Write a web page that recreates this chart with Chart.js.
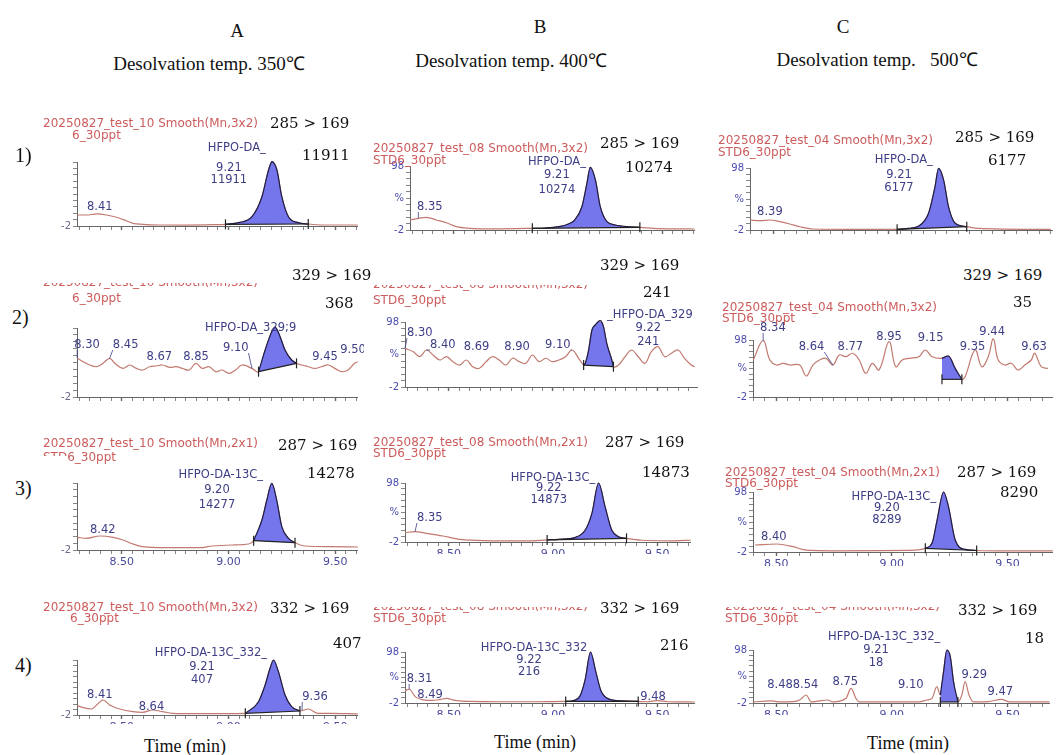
<!DOCTYPE html>
<html>
<head>
<meta charset="utf-8">
<script src="https://cdn.jsdelivr.net/npm/chart.js@4.4.0/dist/chart.umd.min.js"></script>
<style>
  body { margin: 0; background: #fff; }
  #page { position: relative; width: 1057px; height: 755px; overflow: hidden; background: #fff; }
  .t { position: absolute; white-space: nowrap; line-height: 1; transform: translateY(-50%); }
  .c { transform: translate(-50%, -50%); }
  .title { font-family: "Liberation Serif", serif; font-size: 19px; color: #111; }
  .num { font-family: "DejaVu Serif", serif; font-size: 15px; color: #111; }
  .row { font-family: "Liberation Serif", serif; font-size: 20px; color: #111; }
  .hdr { font-family: "DejaVu Sans", sans-serif; font-size: 12px; color: #cc5c5c; }
  .cut { height: 6px; overflow: hidden; transform: none; }
  .cut span { display: block; margin-top: -7px; }
  .time { font-family: "Liberation Serif", serif; font-size: 18px; color: #111; }
  .panel { position: absolute; overflow: hidden; }
  .cover { position: absolute; background: #fff; }
</style>
</head>
<body>
<div id="page">
  <div id="charts"></div>

  <div class="t c title" style="left:237px;top:30px">A</div>
  <div class="t c title" style="left:540px;top:26px">B</div>
  <div class="t c title" style="left:843px;top:26px">C</div>
  <div class="t c title" style="left:209px;top:63px">Desolvation temp. 350℃</div>
  <div class="t c title" style="left:511px;top:60px">Desolvation temp. 400℃</div>
  <div class="t c title" style="left:877px;top:59px">Desolvation temp.&nbsp;&nbsp;&nbsp;500℃</div>

  <!-- row 1 -->
  <div class="t hdr" style="left:43px;top:123px">20250827_test_10 Smooth(Mn,3x2)</div>
  <div class="t hdr" style="left:72px;top:135px">6_30ppt</div>
  <div class="t hdr" style="left:373px;top:148px">20250827_test_08 Smooth(Mn,3x2)</div>
  <div class="t hdr" style="left:373px;top:160px">STD6_30ppt</div>
  <div class="t hdr" style="left:718px;top:140px">20250827_test_04 Smooth(Mn,3x2)</div>
  <div class="t hdr" style="left:718px;top:152px">STD6_30ppt</div>
  <div class="t num" style="left:270px;top:123px">285 &gt; 169</div>
  <div class="t num" style="left:600px;top:143px">285 &gt; 169</div>
  <div class="t num" style="left:955px;top:137px">285 &gt; 169</div>
  <div class="t num" style="left:302px;top:155px">11911</div>
  <div class="t num" style="left:625px;top:167px">10274</div>
  <div class="t num" style="left:988px;top:160px">6177</div>

  <!-- row 2 -->
  <div class="t hdr cut" style="left:43px;top:283px"><span>20250827_test_10 Smooth(Mn,3x2)</span></div>
  <div class="t hdr" style="left:72px;top:298px">6_30ppt</div>
  <div class="t hdr cut" style="left:373px;top:285px"><span>20250827_test_08 Smooth(Mn,3x2)</span></div>
  <div class="t hdr" style="left:373px;top:300px">STD6_30ppt</div>
  <div class="t hdr" style="left:722px;top:307px">20250827_test_04 Smooth(Mn,3x2)</div>
  <div class="t hdr" style="left:722px;top:318px">STD6_30ppt</div>
  <div class="t num" style="left:292px;top:275px">329 &gt; 169</div>
  <div class="t num" style="left:600px;top:265px">329 &gt; 169</div>
  <div class="t num" style="left:963px;top:275px">329 &gt; 169</div>
  <div class="t num" style="left:325px;top:303px">368</div>
  <div class="t num" style="left:643px;top:292px">241</div>
  <div class="t num" style="left:1013px;top:302px">35</div>

  <!-- row 3 -->
  <div class="t hdr" style="left:43px;top:443px">20250827_test_10 Smooth(Mn,2x1)</div>
  <div class="t hdr" style="left:43px;top:457px">STD6_30ppt</div>
  <div class="cover" style="left:38px;top:456px;width:30px;height:12px"></div>
  <div class="t hdr" style="left:373px;top:442px">20250827_test_08 Smooth(Mn,2x1)</div>
  <div class="t hdr" style="left:373px;top:453px">STD6_30ppt</div>
  <div class="t hdr" style="left:725px;top:472px">20250827_test_04 Smooth(Mn,2x1)</div>
  <div class="t hdr" style="left:725px;top:483px">STD6_30ppt</div>
  <div class="t num" style="left:278px;top:445px">287 &gt; 169</div>
  <div class="t num" style="left:605px;top:442px">287 &gt; 169</div>
  <div class="t num" style="left:957px;top:472px">287 &gt; 169</div>
  <div class="t num" style="left:307px;top:473px">14278</div>
  <div class="t num" style="left:642px;top:472px">14873</div>
  <div class="t num" style="left:1000px;top:492px">8290</div>

  <!-- row 4 -->
  <div class="t hdr" style="left:43px;top:607px">20250827_test_10 Smooth(Mn,3x2)</div>
  <div class="t hdr" style="left:70px;top:618px">6_30ppt</div>
  <div class="t hdr cut" style="left:373px;top:607px"><span>20250827_test_08 Smooth(Mn,3x2)</span></div>
  <div class="t hdr" style="left:373px;top:618px">STD6_30ppt</div>
  <div class="t hdr cut" style="left:725px;top:607px"><span>20250827_test_04 Smooth(Mn,3x2)</span></div>
  <div class="t hdr" style="left:725px;top:618px">STD6_30ppt</div>
  <div class="t num" style="left:270px;top:608px">332 &gt; 169</div>
  <div class="t num" style="left:600px;top:608px">332 &gt; 169</div>
  <div class="t num" style="left:958px;top:610px">332 &gt; 169</div>
  <div class="t num" style="left:333px;top:643px">407</div>
  <div class="t num" style="left:660px;top:645px">216</div>
  <div class="t num" style="left:1025px;top:638px">18</div>

  <div class="t row" style="left:15px;top:155px">1)</div>
  <div class="t row" style="left:12px;top:317px">2)</div>
  <div class="t row" style="left:15px;top:488px">3)</div>
  <div class="t row" style="left:15px;top:665px">4)</div>

  <div class="t c time" style="left:185px;top:746px">Time (min)</div>
  <div class="t c time" style="left:535px;top:742px">Time (min)</div>
  <div class="t c time" style="left:908px;top:743px">Time (min)</div>
</div>

<script>
// ---- data: retention time (min) and relative intensity (%) per panel ----
// row 1: 285 > 169
const a1Time = [8.291, 8.335, 8.382, 8.428, 8.475, 8.521, 8.552, 8.598, 8.676, 8.80, 8.924, 8.986, 9.048, 9.11, 9.157, 9.188, 9.204, 9.227, 9.25, 9.281, 9.327, 9.374, 9.451, 9.606];
const a1Pct = [15.2, 15.2, 16.8, 15.2, 11.6, 6.3, 2.2, 0.6, -0.4, -0.5, 0, 0.6, 3.2, 12.5, 43.8, 85.5, 98.5, 85.5, 43.8, 12.5, 3.2, 1.1, -0.4, -0.4];
const a1Cut = [8.986, 9.374];
const a1Base = [0.6, 1.1];
const a1Notes = [['8.41', 8.397, 27.7], ['HFPO-DA_', 9.039, 119.9], ['9.21', 9.002, 88.6], ['11911', 9.002, 69.9]];

const b1Time = [8.29, 8.33, 8.37, 8.417, 8.465, 8.512, 8.576, 8.687, 8.877, 8.94, 9.005, 9.05, 9.08, 9.115, 9.139, 9.155, 9.18, 9.203, 9.235, 9.275, 9.33, 9.393, 9.48, 9.655];
const b1Pct = [13.6, 16.3, 17.8, 13.6, 9.4, 3.2, 0.6, -0.3, 0.6, 1.1, 3.2, 7.4, 13.6, 34.4, 71, 96, 76, 34.4, 11, 5.8, 3.2, 2.2, 0, -0.4];
const b1Cut = [8.877, 9.393];
const b1Base = [0.6, 2.2];
const b1Notes = [['8.35', 8.385, 34, 8.33, 16.3], ['HFPO-DA_', 8.995, 104.3], ['9.21', 8.995, 84], ['10274', 8.995, 60.5]];

const c1Time = [8.40, 8.443, 8.486, 8.529, 8.572, 8.615, 8.672, 8.83, 9.036, 9.087, 9.13, 9.172, 9.20, 9.215, 9.237, 9.258, 9.287, 9.337, 9.387, 9.70];
const c1Pct = [14.1, 13, 14.1, 11.4, 7.7, 3.3, -0.4, -1, -0.9, 0.7, 4.5, 25, 68, 97.5, 78.6, 35.6, 8.8, 3.3, 0.7, -1];
const c1Cut = [9.036, 9.337];
const c1Base = [-0.9, 3.3];
const c1Notes = [['8.39', 8.486, 27], ['HFPO-DA_', 9.065, 111], ['9.21', 9.044, 86.7], ['6177', 9.044, 65.7]];

// row 2: 329 > 169
const a2Time = [8.291, 8.319, 8.35, 8.382, 8.412, 8.443, 8.467, 8.505, 8.537, 8.568, 8.598, 8.63, 8.661, 8.691, 8.723, 8.754, 8.784, 8.816, 8.847, 8.877, 8.909, 8.94, 8.97, 9.002, 9.033, 9.064, 9.11, 9.141, 9.172, 9.203, 9.219, 9.242, 9.265, 9.296, 9.319, 9.343, 9.374, 9.405, 9.436, 9.467, 9.498, 9.529, 9.56, 9.591, 9.606];
const a2Pct = [54.1, 49.2, 44.4, 41.9, 46.8, 54.1, 46.8, 39.5, 44.4, 39.5, 37.1, 41.9, 42.9, 44.4, 41, 41.9, 39.5, 37.1, 46.8, 39.5, 41.9, 34.7, 37.1, 32.3, 37.1, 44.4, 39.5, 34.7, 66.1, 92.7, 99, 85.4, 66.1, 51.6, 46.8, 44.4, 41.9, 39.5, 41.9, 44.4, 39.5, 34.7, 37.1, 46.8, 49.2];
const a2Cut = [9.141, 9.319];
const a2Base = [34.7, 46.8];
const a2Notes = [['8.30', 8.337, 73.4, 8.291, 54.1], ['8.45', 8.518, 73.4, 8.443, 54.1], ['8.67', 8.676, 56], ['8.85', 8.848, 56], ['9.10', 9.034, 69, 9.11, 39.5], ['HFPO-DA_329;9', 9.104, 98], ['9.45', 9.453, 56], ['9.50', 9.584, 66]];

const b2Time = [8.29, 8.33, 8.361, 8.393, 8.425, 8.457, 8.489, 8.52, 8.552, 8.584, 8.615, 8.647, 8.679, 8.71, 8.742, 8.774, 8.806, 8.838, 8.87, 8.901, 8.933, 8.965, 8.996, 9.028, 9.06, 9.091, 9.123, 9.147, 9.155, 9.171, 9.187, 9.203, 9.227, 9.242, 9.258, 9.282, 9.29, 9.314, 9.346, 9.377, 9.409, 9.441, 9.472, 9.504, 9.536, 9.568, 9.6, 9.631, 9.663, 9.68];
const b2Pct = [57.5, 52.3, 44.6, 54.9, 47.2, 39.5, 44.6, 37, 31.8, 39.5, 29.2, 26.8, 37, 44.6, 39.5, 31.8, 42.2, 37, 34.5, 47.2, 37, 42.2, 37, 39.5, 44.6, 54.9, 42.2, 31.8, 34.5, 54.9, 85.7, 93.4, 100, 90.8, 65.2, 39.5, 29.2, 31.8, 44.6, 54.9, 44.6, 34.5, 52.3, 60, 44.6, 49.8, 54.9, 42.2, 31.8, 29.2];
const b2Cut = [9.147, 9.29];
const b2Base = [31.8, 29.2];
const b2Notes = [['8.30', 8.361, 81, 8.29, 57.5], ['8.40', 8.471, 62.6, 8.393, 54.9], ['8.69', 8.633, 59.5], ['8.90', 8.828, 59.5], ['9.10', 9.023, 62.6, 9.091, 54.9], ['_HFPO-DA_329', 9.465, 108.8], ['9.22', 9.457, 88.8], ['241', 9.457, 67.2]];

const c2Time = [8.401, 8.444, 8.473, 8.502, 8.53, 8.559, 8.602, 8.63, 8.659, 8.688, 8.716, 8.745, 8.773, 8.802, 8.831, 8.859, 8.888, 8.916, 8.945, 8.988, 9.017, 9.045, 9.074, 9.117, 9.145, 9.174, 9.217, 9.245, 9.274, 9.303, 9.317, 9.36, 9.389, 9.417, 9.439, 9.46, 9.489, 9.517, 9.546, 9.575, 9.603, 9.618, 9.646, 9.675];
const c2Pct = [62.9, 96.8, 62.9, 54.1, 57.1, 54.1, 54.1, 34.8, 54.1, 62.9, 65.8, 54.1, 71.7, 68.7, 74.7, 62.9, 39.5, 57.1, 45.4, 95, 51.2, 62.9, 65.8, 68.7, 80.5, 68.7, 65.8, 69.9, 48.2, 29, 33.7, 80.5, 51.2, 68.7, 100, 62.9, 54.1, 57.1, 45.4, 54.1, 62.9, 74.7, 51.2, 48.2];
const c2Cut = [9.217, 9.303];
const c2Base = [29, 29];
const c2Notes = [['8.34', 8.486, 119, 8.444, 96.8], ['8.64', 8.653, 85.7, 8.745, 54.1], ['8.77', 8.821, 85.7], ['8.95', 8.988, 103], ['9.15', 9.168, 101.5], ['9.35', 9.349, 85.7], ['9.44', 9.434, 112], ['9.63', 9.615, 85.7]];

// row 3: 287 > 169
const a3Time = [8.2915, 8.335, 8.397, 8.459, 8.505, 8.552, 8.598, 8.707, 8.862, 8.924, 9.017, 9.095, 9.118, 9.157, 9.18, 9.203, 9.226, 9.25, 9.281, 9.312, 9.358, 9.482, 9.606];
const a3Pct = [16.9, 15.4, 18.9, 16.9, 12.9, 7, 3, 1.4, 1.4, 4, 5.5, 7, 11.9, 42.8, 72.6, 97.5, 72.6, 32.8, 15.4, 8.9, 4, 3, 2.5];
const a3Cut = [9.118, 9.312];
const a3Base = [11.9, 8.9];
const a3Notes = [['8.42', 8.411, 27.9], ['HFPO-DA-13C_', 8.964, 110], ['9.20', 8.946, 87.6], ['14277', 8.946, 65.2]];

const b3Time = [8.29, 8.338, 8.393, 8.472, 8.552, 8.631, 8.71, 8.87, 8.972, 9.028, 9.108, 9.155, 9.187, 9.219, 9.25, 9.282, 9.314, 9.353, 9.425, 9.584, 9.66];
const b3Pct = [13.8, 15.5, 12.7, 8.2, 2.5, 0.8, 0, -0.2, 1.5, 2.5, 5.9, 18.3, 46.6, 98, 57.9, 18.3, 7, 4.2, 1, 0, 1];
const b3Cut = [8.972, 9.353];
const b3Base = [1.5, 4.2];
const b3Notes = [['8.35', 8.409, 38.7, 8.338, 15.5], ['HFPO-DA-13C_', 9.0, 106.5], ['9.22', 8.98, 89.5], ['14873', 8.98, 69.2]];

const c3Time = [8.409, 8.502, 8.573, 8.63, 8.745, 9.103, 9.145, 9.174, 9.196, 9.224, 9.245, 9.274, 9.317, 9.367, 9.46, 9.696];
const c3Pct = [9.7, 11.3, 6.9, 1, 0, 1, 4.1, 12.5, 51.3, 98, 73.5, 18, 2.4, 0.5, 0, 0];
const c3Cut = [9.145, 9.367];
const c3Base = [4.1, 0.5];
const c3Notes = [['8.40', 8.49, 23], ['HFPO-DA-13C_', 9.009, 89.7], ['9.20', 8.979, 71.3], ['8289', 8.979, 51.3]];

// row 4: 332 > 169
const a4Time = [8.2915, 8.319, 8.358, 8.382, 8.412, 8.443, 8.49, 8.552, 8.598, 8.645, 8.691, 8.738, 8.862, 9.079, 9.141, 9.172, 9.195, 9.211, 9.234, 9.265, 9.296, 9.335, 9.374, 9.42, 9.482, 9.606];
const a4Pct = [15, 11.3, 8.9, 16.2, 25.3, 16.2, 8.9, 4, 2.9, 7.1, 4, 1.1, 0.4, 1.1, 22.2, 52.5, 82.9, 98, 76.8, 34.4, 13.1, 5.3, 8.9, 1.1, 1.1, 0];
const a4Cut = [9.079, 9.335];
const a4Base = [1.1, 5.3];
const a4Notes = [['8.41', 8.397, 34.4], ['8.64', 8.639, 12.5], ['HFPO-DA-13C_332_', 8.918, 110.7], ['9.21', 8.876, 85.3], ['407', 8.876, 61.6], ['9.36', 9.406, 30.7, 9.345, 7]];

const b4Time = [8.29, 8.31, 8.34, 8.38, 8.42, 8.46, 8.49, 8.53, 8.6, 8.75, 8.9, 9.061, 9.10, 9.13, 9.155, 9.18, 9.205, 9.23, 9.266, 9.33, 9.409, 9.45, 9.5, 9.55, 9.68];
const b4Pct = [22, 25, 10, 4, 3, 5, 7, 3, 1, 0.5, 0.5, 1, 3, 12, 45, 98, 60, 22, 6, 2, 1, 0.5, 2.5, 0.5, 0];
const b4Cut = [9.061, 9.409];
const b4Base = [1, 1];
const b4Notes = [['8.31', 8.36, 45, 8.31, 25], ['8.49', 8.41, 14], ['HFPO-DA-13C_332', 8.909, 106], ['9.22', 8.885, 82], ['216', 8.885, 58.8], ['9.48', 9.48, 9.8]];

const c4Time = [8.401, 8.48, 8.516, 8.573, 8.602, 8.63, 8.652, 8.723, 8.745, 8.802, 8.824, 8.845, 8.859, 9.117, 9.152, 9.174, 9.195, 9.21, 9.224, 9.238, 9.253, 9.267, 9.286, 9.303, 9.317, 9.334, 9.353, 9.417, 9.474, 9.51, 9.682];
const c4Pct = [0, 2, 0, 0.5, 3.7, 13.1, 0, 3.7, 0, 6.8, 25.7, 6.8, 0, 0, 3.7, 6.8, 28.8, 13.1, 57.1, 98, 85.4, 38.2, 0, 13.1, 38.2, 13.1, 0, 0.5, 5, 0, 0];
const c4Cut = [9.21, 9.286];
const c4Base = [0, 0];
const c4Notes = [['8.488.54', 8.572, 32], ['8.75', 8.799, 37.6], ['9.10', 9.082, 32], ['HFPO-DA-13C_332_', 8.967, 122.5], ['9.21', 8.932, 98], ['18', 8.932, 73.5], ['9.29', 9.357, 50.8], ['9.47', 9.469, 18.8]];

// ---- layout ----
const PAD_TOP = 48;
const PAD_RIGHT = 4;
const AXIS_W = 30;
const AXIS_H = 24;
const TRACE = "#c27a70";
const PEAK_FILL = "rgb(118,118,236)";
const PEAK_LINE = "#1d1d45";
const NOTE = "#3e3e86";
const AXIS = "#666";

Chart.defaults.font.family = '"DejaVu Sans", sans-serif';

const chartsNode = document.getElementById("charts");

function notesPlugin(notes) {
  return {
    id: "notes",
    afterDatasetsDraw(chart) {
      const { ctx } = chart;
      const x = chart.scales.x;
      const y = chart.scales.y;
      ctx.save();
      ctx.font = '11.5px "DejaVu Sans", sans-serif';
      ctx.fillStyle = NOTE;
      ctx.strokeStyle = NOTE;
      ctx.lineWidth = 0.8;
      ctx.textAlign = "center";
      ctx.textBaseline = "middle";
      for (const [text, t, v, lt, lv] of notes) {
        const px = x.getPixelForValue(t);
        const py = y.getPixelForValue(v);
        ctx.fillText(text, px, py);
        if (lt !== undefined) {
          const tx = x.getPixelForValue(lt);
          const ty = y.getPixelForValue(lv);
          const half = ctx.measureText(text).width / 2;
          const sx = Math.min(Math.max(tx, px - half), px + half);
          const sy = ty > py ? py + 5 : py - 5;
          ctx.beginPath();
          ctx.moveTo(sx, sy);
          ctx.lineTo(tx, ty);
          ctx.stroke();
        }
      }
      ctx.restore();
    },
  };
}

function addPanel(g, time, pct, cut, base, notes) {
  const width = AXIS_W + (g.R - g.L) + PAD_RIGHT;
  const height = PAD_TOP + (g.bot - g.top) + AXIS_H;

  const wrap = document.createElement("div");
  wrap.className = "panel";
  wrap.style.left = `${g.L - AXIS_W}px`;
  wrap.style.top = `${g.top - PAD_TOP}px`;
  wrap.style.width = `${width}px`;
  wrap.style.height = `${PAD_TOP + (g.bot - g.top) + g.below}px`;
  const canvas = document.createElement("canvas");
  canvas.width = width;
  canvas.height = height;
  wrap.appendChild(canvas);
  chartsNode.appendChild(wrap);

  const trace = time.map((t, i) => ({ x: t, y: pct[i] }));
  const peak = trace.filter((p) => p.x >= cut[0] - 1e-9 && p.x <= cut[1] + 1e-9);
  const baseline = [
    { x: cut[0], y: base[0] },
    { x: cut[1], y: base[1] },
  ];
  const tmax = g.t0 + (g.R - g.L) / g.ppm;
  const isMajor = (v) => Math.abs(v * 2 - Math.round(v * 2)) < 1e-6;

  new Chart(canvas, {
    type: "line",
    data: {
      datasets: [
        {
          data: baseline,
          borderColor: "#222",
          borderWidth: 1.2,
          pointStyle: "line",
          rotation: 90,
          pointRadius: 5,
          pointBorderWidth: 1.2,
          pointBorderColor: "#222",
          tension: 0,
          clip: false,
        },
        {
          data: peak,
          borderColor: PEAK_LINE,
          borderWidth: 1.2,
          backgroundColor: PEAK_FILL,
          fill: "-1",
          pointRadius: 0,
          cubicInterpolationMode: "monotone",
          clip: false,
        },
        {
          data: trace,
          borderColor: TRACE,
          borderWidth: 1.2,
          pointRadius: 0,
          fill: false,
          tension: g.noisy ? 0.4 : 0,
          cubicInterpolationMode: g.noisy ? "default" : "monotone",
          clip: false,
        },
      ],
    },
    options: {
      responsive: false,
      animation: false,
      devicePixelRatio: 1,
      layout: { padding: { top: PAD_TOP, right: PAD_RIGHT, left: 0, bottom: 0 } },
      plugins: { legend: { display: false }, tooltip: { enabled: false } },
      scales: {
        x: {
          type: "linear",
          min: g.t0,
          max: tmax,
          afterFit: (s) => {
            s.height = AXIS_H;
          },
          border: { color: AXIS, width: 1 },
          grid: {
            drawOnChartArea: false,
            tickLength: 4,
            tickColor: AXIS,
            tickWidth: (c) => (c.tick && isMajor(c.tick.value) ? 1.4 : 0.8),
          },
          ticks: {
            stepSize: 0.05,
            autoSkip: false,
            includeBounds: false,
            maxTicksLimit: 200,
            maxRotation: 0,
            padding: 2,
            color: "#4b4ba0",
            font: { size: 11 },
            callback: (v) => (g.xLabels && isMajor(v) ? v.toFixed(2) : ""),
          },
        },
        y: {
          min: -2,
          max: 98,
          afterFit: (s) => {
            s.width = AXIS_W;
          },
          border: { color: AXIS, width: 1 },
          grid: { drawOnChartArea: false, tickLength: 4, tickColor: AXIS, tickWidth: 0.8 },
          ticks: {
            stepSize: 10,
            autoSkip: false,
            padding: 2,
            color: g.hideTop ? "#6a6a8a" : "#4b4bb0",
            font: { size: 10 },
            callback: (v) => {
              if (v === -2) return "-2";
              if (g.hideTop) return "";
              if (v === 48) return "%";
              if (v === 98) return "98";
              return "";
            },
          },
        },
      },
    },
    plugins: [notesPlugin(notes)],
  });
}

const colA = { t0: 8.29, ppm: 215, hideTop: true };
const colB = { t0: 8.29, ppm: 210, hideTop: false };
const colC = { t0: 8.40, ppm: 233, hideTop: false };

addPanel({ ...colA, L: 77, R: 360, top: 162, bot: 226, below: 7 }, a1Time, a1Pct, a1Cut, a1Base, a1Notes);
addPanel({ ...colB, L: 410, R: 697, top: 166, bot: 230, below: 7 }, b1Time, b1Pct, b1Cut, b1Base, b1Notes);
addPanel({ ...colC, L: 750, R: 1055, top: 168, bot: 230, below: 7 }, c1Time, c1Pct, c1Cut, c1Base, c1Notes);

addPanel({ ...colA, L: 77, R: 360, top: 328, bot: 397, below: 7, noisy: true }, a2Time, a2Pct, a2Cut, a2Base, a2Notes);
addPanel({ ...colB, L: 405, R: 700, top: 322, bot: 387, below: 7, noisy: true }, b2Time, b2Pct, b2Cut, b2Base, b2Notes);
addPanel({ ...colC, L: 753, R: 1055, top: 340, bot: 397, below: 7, noisy: true }, c2Time, c2Pct, c2Cut, c2Base, c2Notes);

addPanel({ ...colA, L: 77, R: 360, top: 483, bot: 550, below: 22, xLabels: true }, a3Time, a3Pct, a3Cut, a3Base, a3Notes);
addPanel({ ...colB, L: 405, R: 693, top: 483, bot: 542, below: 12, xLabels: true }, b3Time, b3Pct, b3Cut, b3Base, b3Notes);
addPanel({ ...colC, L: 753, R: 1055, top: 492, bot: 552, below: 14, xLabels: true }, c3Time, c3Pct, c3Cut, c3Base, c3Notes);

addPanel({ ...colA, L: 77, R: 360, top: 660, bot: 715, below: 9, xLabels: true }, a4Time, a4Pct, a4Cut, a4Base, a4Notes);
addPanel({ ...colB, L: 405, R: 697, top: 652, bot: 703, below: 12, xLabels: true }, b4Time, b4Pct, b4Cut, b4Base, b4Notes);
addPanel({ ...colC, L: 753, R: 1052, top: 650, bot: 703, below: 12, xLabels: true }, c4Time, c4Pct, c4Cut, c4Base, c4Notes);
</script>
</body>
</html>
